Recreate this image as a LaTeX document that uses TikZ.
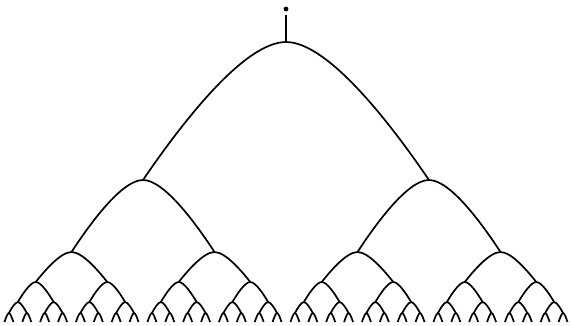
\documentclass[tikz,border=0pt]{standalone}
\usepackage{tikz}
\usetikzlibrary{calc}

\begin{document}
\begin{tikzpicture}[x=1pt,y=-1pt,
  arch/.style={draw=black,line width=1.7pt,line join=round},
  stem/.style={draw=black,line width=1.7pt},
  dot/.style={circle,fill=black,inner sep=0pt,minimum size=4.8pt}
]
  \useasboundingbox (0,0) rectangle (572,325);
  % height of the apexes, level by level
  \def\levely{{42,180,252,282,302,313,322}}
  \foreach \k in {0,...,6}{
    \pgfmathtruncatemacro\cnt{2^\k-1}
    \foreach \i in {0,...,\cnt}{
      \pgfmathsetmacro\xx{(\i+0.5)/2^\k*572}
      \pgfmathsetmacro\yy{\levely[\k]}
      \coordinate (n\k-\i) at (\xx,\yy);
    }
  }
  % one bell-shaped arch from every apex down to its two children
  \foreach \k in {0,...,5}{
    \pgfmathtruncatemacro\cnt{2^\k-1}
    \pgfmathtruncatemacro\nk{\k+1}
    \foreach \i in {0,...,\cnt}{
      \pgfmathtruncatemacro\ileft{2*\i}
      \pgfmathtruncatemacro\iright{2*\i+1}
      \draw[arch] let \p1=(n\k-\i), \p2=(n\nk-\ileft), \p3=(n\nk-\iright) in
        (\p2) .. controls ({\x2+0.25*(\x1-\x2)},{\y2+0.38*(\y1-\y2)})
                 and ({\x1+0.3*(\x2-\x1)},\y1) .. (\p1)
              .. controls ({\x1+0.3*(\x3-\x1)},\y1)
                 and ({\x3+0.25*(\x1-\x3)},{\y3+0.38*(\y1-\y3)}) .. (\p3);
    }
  }
  \node[dot] (top) at (286,9) {};
  \draw[stem,shorten <=3pt] (top) -- (n0-0);
\end{tikzpicture}
\end{document}
